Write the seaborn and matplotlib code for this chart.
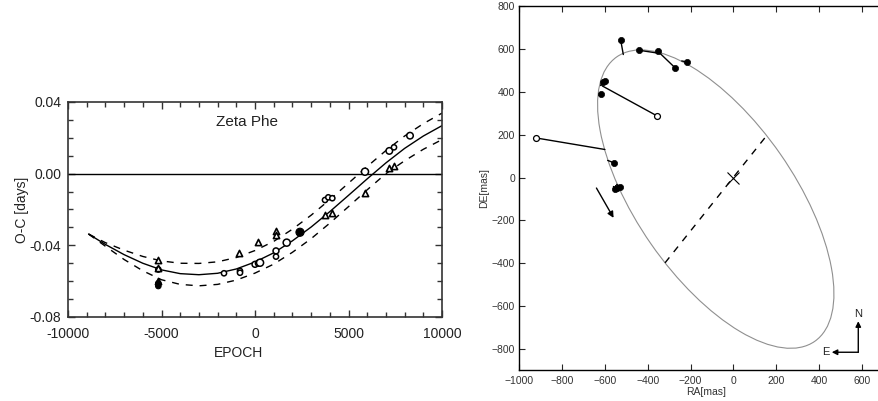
import matplotlib
matplotlib.use("Agg")
import matplotlib.pyplot as plt
import seaborn as sns
import pandas as pd
from matplotlib.patches import Ellipse
from matplotlib.ticker import MultipleLocator

# ---------------- left panel: O-C diagram ----------------
epoch_curve = [-8900, -8000, -7000, -6000, -5000, -4000, -3000, -2000, -1000, 0,
               1000, 2000, 3000, 4000, 5000, 6000, 7000, 8000, 9000, 10000]
oc_fit = [-0.0337, -0.0395, -0.0452, -0.0500, -0.0537, -0.0558, -0.0564, -0.0556, -0.0532, -0.0493,
          -0.0442, -0.0375, -0.0298, -0.0212, -0.0121, -0.0029, 0.0060, 0.0141, 0.0210, 0.0268]
oc_upper = [-0.0337, -0.0385, -0.0427, -0.0462, -0.0487, -0.0500, -0.0501, -0.0492, -0.0468, -0.0429,
            -0.0378, -0.0310, -0.0232, -0.0145, -0.0053, 0.0040, 0.0129, 0.0210, 0.0279, 0.0338]
oc_lower = [-0.0337, -0.0405, -0.0479, -0.0542, -0.0592, -0.0618, -0.0626, -0.0618, -0.0594, -0.0555,
            -0.0505, -0.0439, -0.0363, -0.0276, -0.0184, -0.0090, 0.0000, 0.0072, 0.0136, 0.0190]

circle_epoch = [-5170, -1658, -802, -802, 0, 180, 270, 1123, 1123, 1695,
                3743, 3920, 4134, 5882, 7182, 7433, 8289]
circle_oc = [-0.0535, -0.0556, -0.0543, -0.0553, -0.0506, -0.0500, -0.0497, -0.0431, -0.0463, -0.0385,
             -0.0147, -0.0132, -0.0137, 0.0011, 0.0127, 0.0147, 0.0212]
circle_size = [14, 14, 14, 14, 18, 18, 26, 18, 14, 26,
               14, 14, 14, 26, 22, 14, 22]

triangle_epoch = [-5170, -5170, -5170, -840, 180, 1123, 1123, 3743, 4100, 5882, 7182, 7433]
triangle_oc = [-0.0482, -0.0527, -0.0599, -0.0444, -0.0380, -0.0318, -0.0342, -0.0231, -0.0221,
               -0.0106, 0.0030, 0.0043]

filled_epoch = [-5170, -5170, 2406]
filled_oc = [-0.0612, -0.0627, -0.0327]
filled_size = [16, 16, 34]

epoch_ticks = [-10000, -5000, 0, 5000, 10000]
epoch_labels = ["-10000", "-5000", "0", "5000", "10000"]
oc_ticks = [-0.08, -0.04, 0.00, 0.04]
oc_labels = ["-0.08", "-0.04", "0.00", "0.04"]

# ---------------- right panel: visual orbit ----------------
orbit_center = (-82, -101)
orbit_width = 1620
orbit_height = 736
orbit_angle = 124.8

node_ra = [-319, 156]
node_de = [-399, 196]

obs_ra = [-526, -441, -350, -271, -215, -607, -600, -618, -556, -553, -542, -529]
obs_de = [641, 595, 590, 512, 540, 447, 450, 392, 68, -52, -47, -43]
pred_ra = [-514, -355, -343, -345, -241, -620, -618, -627, -587, -560, -550, -545]
pred_de = [575, 582, 579, 583, 545, 430, 432, 385, 80, -42, -38, -32]

open_ra = [-358, -922]
open_de = [289, 185]
open_pred_ra = [-612, -600]
open_pred_de = [428, 131]

motion_start = (-646, -38)
motion_end = (-553, -200)

# ---------------- drawing ----------------
sns.set_style("ticks")
plt.rcParams["font.family"] = ["Liberation Sans", "DejaVu Sans"]

fig = plt.figure(figsize=(8.79, 4.01), dpi=100)

ax1 = fig.add_axes([68 / 879, 84 / 401, 374 / 879, 215 / 401])
ax1.axhline(0, color="black", lw=1.0, zorder=1)
sns.lineplot(x=epoch_curve, y=oc_fit, color="black", lw=1.0, ax=ax1)
sns.lineplot(x=epoch_curve, y=oc_upper, color="black", lw=1.0, linestyle=(0, (5, 5)), ax=ax1)
sns.lineplot(x=epoch_curve, y=oc_lower, color="black", lw=1.0, linestyle=(0, (5, 5)), ax=ax1)
sns.scatterplot(x=circle_epoch, y=circle_oc, s=circle_size, marker="o", color="white",
                edgecolor="black", linewidth=1.1, ax=ax1, zorder=3)
sns.scatterplot(x=triangle_epoch, y=triangle_oc, s=20, marker="^", color="white",
                edgecolor="black", linewidth=1.2, ax=ax1, zorder=3)
sns.scatterplot(x=filled_epoch, y=filled_oc, s=filled_size, marker="o", color="black",
                edgecolor="black", linewidth=0.8, ax=ax1, zorder=3)

ax1.set_xlim(-10000, 10000)
ax1.set_ylim(-0.08, 0.04)
ax1.set_xticks(epoch_ticks)
ax1.set_xticklabels(epoch_labels)
ax1.set_yticks(oc_ticks)
ax1.set_yticklabels(oc_labels)
ax1.xaxis.set_minor_locator(MultipleLocator(1000))
ax1.yaxis.set_minor_locator(MultipleLocator(0.01))
ax1.tick_params(which="both", direction="in", top=True, right=True, width=1.0, color="#333333")
ax1.tick_params(which="major", length=5, labelsize=10, labelcolor="#222222")
ax1.tick_params(which="minor", length=3.5)
ax1.tick_params(axis="x", pad=7)
ax1.tick_params(axis="y", pad=5)
for sp in ax1.spines.values():
    sp.set_visible(True)
    sp.set_color("#333333")
    sp.set_linewidth(1.2)
ax1.set_xlabel("EPOCH", fontsize=10, color="#222222")
ax1.set_ylabel("O-C [days]", fontsize=10, color="#222222")
ax1.xaxis.set_label_coords(0.455, -0.135)
ax1.yaxis.set_label_coords(-0.105, 0.5)
ax1.text(-440, 0.029, "Zeta Phe", fontsize=11, ha="center", va="center", color="#222222")

ax2 = fig.add_axes([519.3 / 879, 31 / 401, 374.5 / 879, 363.6 / 401])
ax2.add_patch(Ellipse(orbit_center, orbit_width, orbit_height, angle=orbit_angle,
                      fill=False, edgecolor="#8f8f8f", lw=0.8))
sns.lineplot(x=node_ra, y=node_de, color="black", lw=1.0, linestyle=(0, (5, 5)),
             sort=False, ax=ax2)
ax2.plot([0], [0], marker="x", color="black", markersize=8, mew=0.8)

seg = pd.DataFrame({
    "ra": obs_ra + pred_ra + open_ra + open_pred_ra,
    "de": obs_de + pred_de + open_de + open_pred_de,
    "seg": list(range(len(obs_ra))) * 2
    + [100 + i for i in range(len(open_ra))] * 2,
})
sns.lineplot(data=seg, x="ra", y="de", units="seg", estimator=None, sort=False,
             color="black", lw=1.0, ax=ax2)
sns.scatterplot(x=obs_ra, y=obs_de, s=20, marker="o", color="black", edgecolor="black",
                linewidth=0.5, ax=ax2, zorder=4)
sns.scatterplot(x=open_ra, y=open_de, s=18, marker="o", color="white", edgecolor="black",
                linewidth=0.9, ax=ax2, zorder=4)

ax2.annotate("", xy=motion_end, xytext=motion_start,
             arrowprops=dict(arrowstyle="-|>", color="black", lw=1.0, mutation_scale=9))
ax2.annotate("", xy=(584, -672), xytext=(584, -817),
             arrowprops=dict(arrowstyle="-|>", color="black", lw=1.0, mutation_scale=8,
                             shrinkA=0, shrinkB=0))
ax2.annotate("", xy=(460, -817), xytext=(584, -817),
             arrowprops=dict(arrowstyle="-|>", color="black", lw=1.0, mutation_scale=8,
                             shrinkA=0, shrinkB=0))
ax2.text(584, -640, "N", fontsize=8, ha="center", va="center", color="#222222")
ax2.text(430, -817, "E", fontsize=8, ha="center", va="center", color="#222222")

ax2.set_xlim(-1000, 750)
ax2.set_ylim(-900, 800)
ax2.set_xticks(range(-1000, 700, 200))
ax2.set_yticks(range(-800, 801, 200))
ax2.tick_params(direction="in", top=True, right=True, length=4, width=0.8,
                labelsize=7.5, labelcolor="#333333")
ax2.tick_params(axis="x", pad=4)
ax2.tick_params(axis="y", pad=3)
for sp in ax2.spines.values():
    sp.set_visible(True)
    sp.set_color("black")
    sp.set_linewidth(1.0)
ax2.set_xlabel("RA[mas]", fontsize=7.5, color="#333333", labelpad=1)
ax2.set_ylabel("DE[mas]", fontsize=7.5, color="#333333", labelpad=2)

fig.savefig("out.png", dpi=100)
